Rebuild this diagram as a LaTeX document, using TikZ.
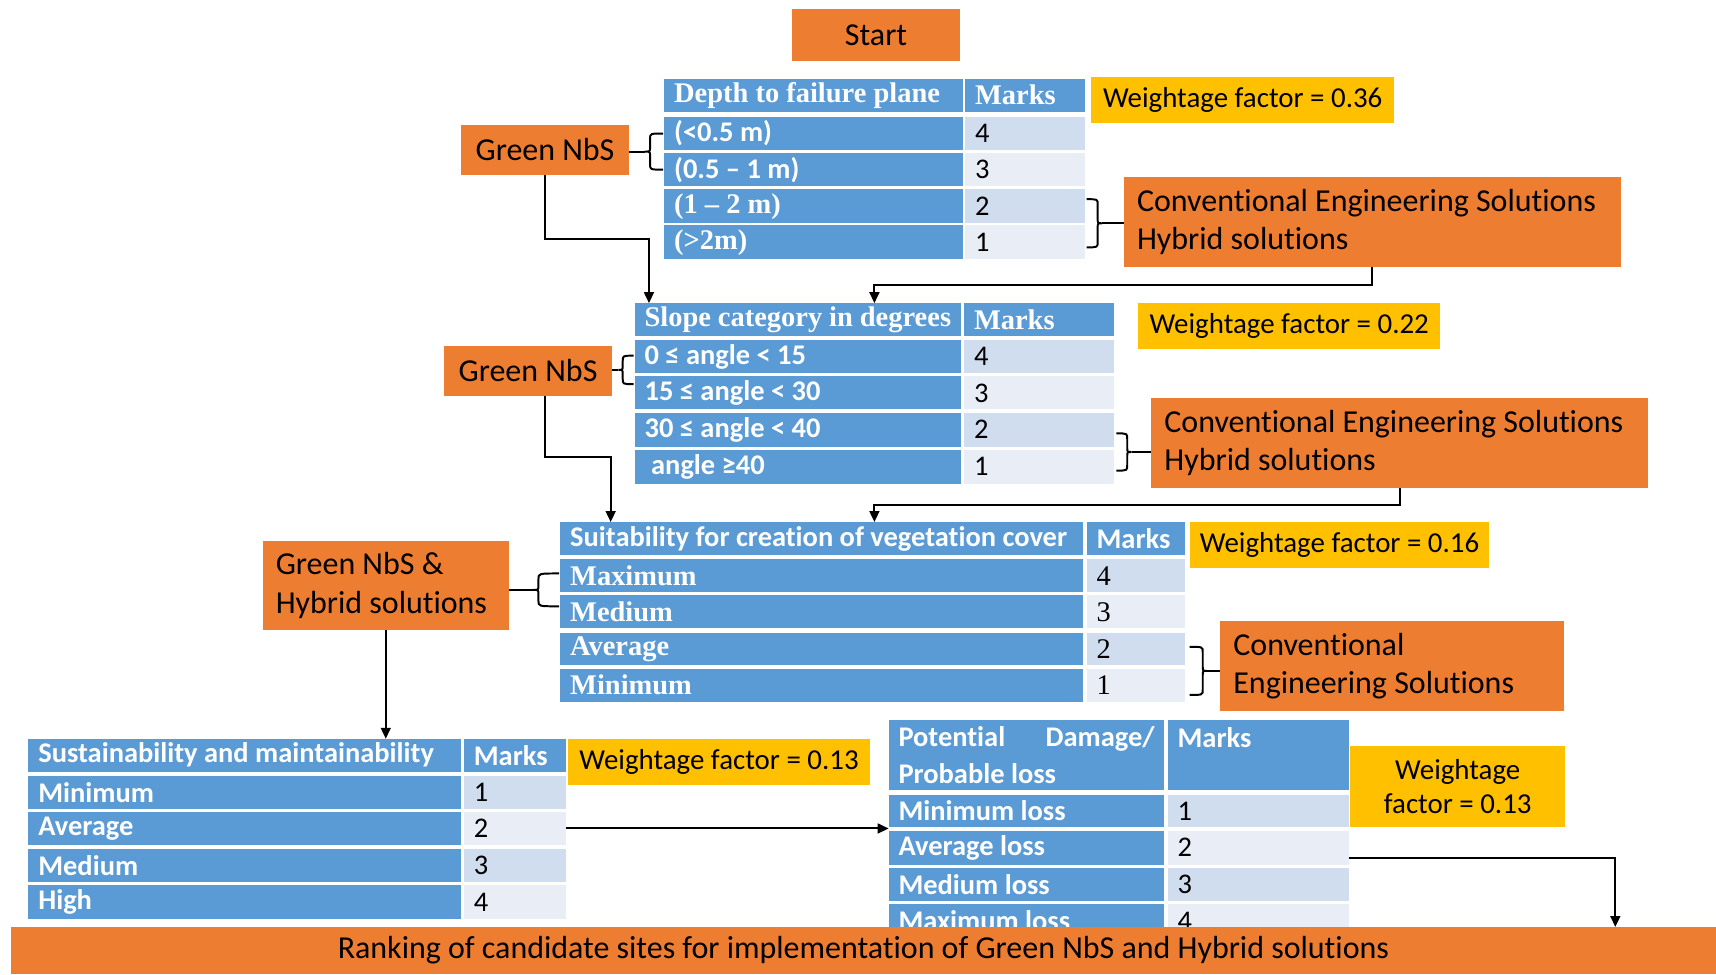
\documentclass[tikz,border=0pt]{standalone}
\usepackage{fontspec}
\setmainfont{Carlito}[Ligatures={TeX,NoCommon}]
\newfontfamily\tnr{Liberation Serif}
\usetikzlibrary{arrows.meta}
\definecolor{orangeC}{HTML}{ED7D31}
\definecolor{yellowC}{HTML}{FFC000}
\definecolor{blueC}{HTML}{5B9BD5}
\definecolor{lightA}{HTML}{D0DDEE}
\definecolor{lightB}{HTML}{E9EEF6}
\newcommand\fs{\fontsize{13}{16.5}\selectfont}
\newcommand\fb{\fontsize{14.6}{17.5}\selectfont}
\newcommand\fy{\fontsize{13.2}{15.6}\selectfont}
% name, style, x1, y1, x2, y2, text
\newcommand\cellbox[7]{%
  \pgfmathsetmacro\cw{(#5-#3)*0.5}%
  \pgfmathsetmacro\ch{(#6-#4)*0.5}%
  \pgfmathsetmacro\tw{(#5-#3)*0.5-9}%
  \node[#2, anchor=north west, minimum width=\cw pt, minimum height=\ch pt, text width=\tw pt] (#1) at (#3,#4) {#7};}
% brace: x arms, y top, y bottom, spine offset (signed), tip offset (signed), tip coordinate name
\newcommand\brc[6]{%
  \pgfmathsetmacro\bm{(#2+#3)/2}%
  \draw[lnk] (#1,#2) .. controls ({#1+(#4)},#2) .. ({#1+(#4)},{#2+5}) -- ({#1+(#4)},{\bm-4}) .. controls ({#1+(#4)},\bm) .. ({#1+(#5)},\bm) .. controls ({#1+(#4)},\bm) .. ({#1+(#4)},{\bm+4}) -- ({#1+(#4)},{#3-5}) .. controls ({#1+(#4)},#3) .. (#1,#3);
  \coordinate (#6) at ({#1+(#5)},\bm);}
\begin{document}
\begin{tikzpicture}[x=0.5pt,y=-0.5pt,
  cellbase/.style={inner xsep=4.5pt, inner ysep=0pt, outer sep=0pt, font=\fs},
  hd/.style={cellbase, fill=blueC, text=white, align=flush left, font=\fs\bfseries},
  lc/.style={hd},
  mk/.style={cellbase, text=black, align=flush left},
  mka/.style={mk, fill=lightA},
  mkb/.style={mk, fill=lightB},
  obox/.style={cellbase, fill=orangeC, text=black, align=flush left, inner xsep=6pt, font=\fb},
  ocbox/.style={cellbase, fill=orangeC, text=black, align=flush center, font=\fb},
  ybox/.style={cellbase, fill=yellowC, text=black, align=flush center, font=\fy},
  arr/.style={-{Triangle[length=5pt,width=4.5pt]}, line width=0.9pt},
  lnk/.style={line width=0.9pt}]
\useasboundingbox (0,0) rectangle (1568,890);

% Start
\cellbox{start}{ocbox}{724}{8}{877}{56}{Start}

% Table 1
\cellbox{t1h}{hd}{607}{72}{880}{102}{\tnr Depth to failure plane}
\cellbox{t1hm}{hd}{882}{72}{991}{102}{\tnr Marks}
\cellbox{t1r1l}{lc}{607}{107}{880}{137}{(<0.5 m)}
\cellbox{t1r1m}{mka}{882}{107}{991}{137}{4}
\cellbox{t1r2l}{lc}{607}{140}{880}{170}{(0.5 – 1 m)}
\cellbox{t1r2m}{mkb}{882}{140}{991}{170}{3}
\cellbox{t1r3l}{lc}{607}{173}{880}{204}{\tnr (1 – 2 m)}
\cellbox{t1r3m}{mka}{882}{173}{991}{204}{2}
\cellbox{t1r4l}{lc}{607}{206}{880}{237}{\tnr (>2m)}
\cellbox{t1r4m}{mkb}{882}{206}{991}{237}{1}
\cellbox{w1}{ybox}{997}{70}{1274}{112}{Weightage factor = 0.36}
\cellbox{gn1}{ocbox}{421}{114}{575}{160}{Green NbS}
\cellbox{ce1}{obox}{1027}{162}{1475}{244}{Conventional Engineering Solutions\\Hybrid solutions}

% Table 2
\cellbox{t2h}{hd}{580}{277}{878}{307}{\tnr Slope category in degrees}
\cellbox{t2hm}{hd}{881}{277}{1018}{307}{\tnr Marks}
\cellbox{t2r1l}{lc}{580}{311}{878}{341}{0 ≤ angle < 15}
\cellbox{t2r1m}{mka}{881}{311}{1018}{341}{4}
\cellbox{t2r2l}{lc}{580}{344}{878}{374}{15 ≤ angle < 30}
\cellbox{t2r2m}{mkb}{881}{344}{1018}{374}{3}
\cellbox{t2r3l}{lc}{580}{377}{878}{408}{30 ≤ angle < 40}
\cellbox{t2r3m}{mka}{881}{377}{1018}{408}{2}
\cellbox{t2r4l}{lc}{580}{411}{878}{442}{\hspace{3pt}angle ≥40}
\cellbox{t2r4m}{mkb}{881}{411}{1018}{442}{1}
\cellbox{w2}{ybox}{1040}{277}{1316}{319}{Weightage factor = 0.22}
\cellbox{gn2}{ocbox}{406}{316}{559}{362}{Green NbS}
\cellbox{ce2}{obox}{1052}{364}{1500}{446}{Conventional Engineering Solutions\\Hybrid solutions}

% Table 3
\cellbox{t3h}{hd}{512}{477}{990}{507}{Suitability for creation of vegetation cover}
\cellbox{t3hm}{hd}{993}{477}{1083}{507}{Marks}
\cellbox{t3r1l}{lc}{512}{511}{990}{541}{\tnr Maximum}
\cellbox{t3r1m}{mka}{993}{511}{1083}{541}{\tnr 4}
\cellbox{t3r2l}{lc}{512}{544}{990}{574}{\tnr Medium}
\cellbox{t3r2m}{mkb}{993}{544}{1083}{574}{\tnr 3}
\cellbox{t3r3l}{lc}{512}{578}{990}{608}{\tnr Average}
\cellbox{t3r3m}{mka}{993}{578}{1083}{608}{\tnr 2}
\cellbox{t3r4l}{lc}{512}{611}{990}{641}{\tnr Minimum}
\cellbox{t3r4m}{mkb}{993}{611}{1083}{641}{\tnr 1}
\cellbox{w3}{ybox}{1087}{477}{1361}{519}{Weightage factor = 0.16}
\cellbox{gh3}{obox}{240}{494}{459}{576}{Green NbS \&\\Hybrid solutions}
\cellbox{ce3}{obox}{1115}{567}{1423}{650}{Conventional\\Engineering Solutions}

% Table 4
\cellbox{t4h}{hd}{26}{675}{421}{705}{Sustainability and maintainability}
\cellbox{t4hm}{hd}{424}{675}{517}{705}{Marks}
\cellbox{t4r1l}{lc}{26}{709}{421}{739}{Minimum}
\cellbox{t4r1m}{mka}{424}{709}{517}{739}{1}
\cellbox{t4r2l}{lc}{26}{742}{421}{772}{Average}
\cellbox{t4r2m}{mkb}{424}{742}{517}{772}{2}
\cellbox{t4r3l}{lc}{26}{776}{421}{806}{Medium}
\cellbox{t4r3m}{mka}{424}{776}{517}{806}{3}
\cellbox{t4r4l}{lc}{26}{809}{421}{840}{High}
\cellbox{t4r4m}{mkb}{424}{809}{517}{840}{4}
\cellbox{w4}{ybox}{519}{675}{795}{717}{Weightage factor = 0.13}

% Table 5
\cellbox{t5h}{hd}{812}{658}{1064}{722}{Potential\hfill Damage/\\Probable loss}
\cellbox{t5hm}{hd}{1067}{658}{1233}{722}{Marks\\\mbox{}}
\cellbox{t5r1l}{lc}{812}{726}{1064}{756}{Minimum loss}
\cellbox{t5r1m}{mka}{1067}{726}{1233}{756}{1}
\cellbox{t5r2l}{lc}{812}{759}{1064}{790}{Average loss}
\cellbox{t5r2m}{mkb}{1067}{759}{1233}{790}{2}
\cellbox{t5r3l}{lc}{812}{793}{1064}{823}{Medium loss}
\cellbox{t5r3m}{mka}{1067}{793}{1233}{823}{3}
\cellbox{t5r4l}{lc}{812}{826}{1064}{857}{Maximum loss}
\cellbox{t5r4m}{mkb}{1067}{826}{1233}{857}{4}
\cellbox{w5}{ybox}{1234}{682}{1430}{756}{Weightage\\factor = 0.13}

% Bottom bar
\cellbox{bar}{ocbox}{10}{847}{1568}{890}{Ranking of candidate sites for implementation of Green NbS and Hybrid solutions}

% Braces
\brc{606}{122}{155}{-12}{-17}{tip1}
\brc{579}{325}{351}{-10}{-14}{tip2}
\brc{511}{524}{554}{-19}{-24}{tip3}
\brc{993}{182}{226}{10}{14}{tip4}
\brc{1020}{396}{430}{10}{14}{tip5}
\brc{1087}{591}{635}{12}{16}{tip6}
\draw[lnk] (tip1 -| gn1.east) -- (tip1);
\draw[lnk] (tip2 -| gn2.east) -- (tip2);
\draw[lnk] (tip3 -| gh3.east) -- (tip3);
\draw[lnk] (tip4) -- (tip4 -| ce1.west);
\draw[lnk] (tip5) -- (tip5 -| ce2.west);
\draw[lnk] (tip6) -- (tip6 -| ce3.west);

% Connectors
\coordinate (k1) at (593,218);
\draw[arr] (gn1.south) |- (k1) -- (k1 |- t2h.north);
\coordinate (k2) at (799,260);
\draw[arr] (ce1.south) |- (k2) -- (k2 |- t2h.north);
\coordinate (k3) at (498,418);
\coordinate (k3b) at (558,418);
\draw[arr] (k3 |- gn2.south) -- (k3) -- (k3b) -- (k3b |- t3h.north);
\coordinate (k4) at (799,461);
\draw[arr] (ce2.south) |- (k4) -- (k4 |- t3h.north);
\draw[arr] (gh3.south) -- (gh3.south |- t4h.north);
\draw[arr] (t4r2m.east) -- (t4r2m.east -| t5r1l.west);
\coordinate (k6) at (1476,784);
\draw[arr] (k6 -| t5r2m.east) -- (k6) -- (k6 |- bar.north);
\end{tikzpicture}
\end{document}
